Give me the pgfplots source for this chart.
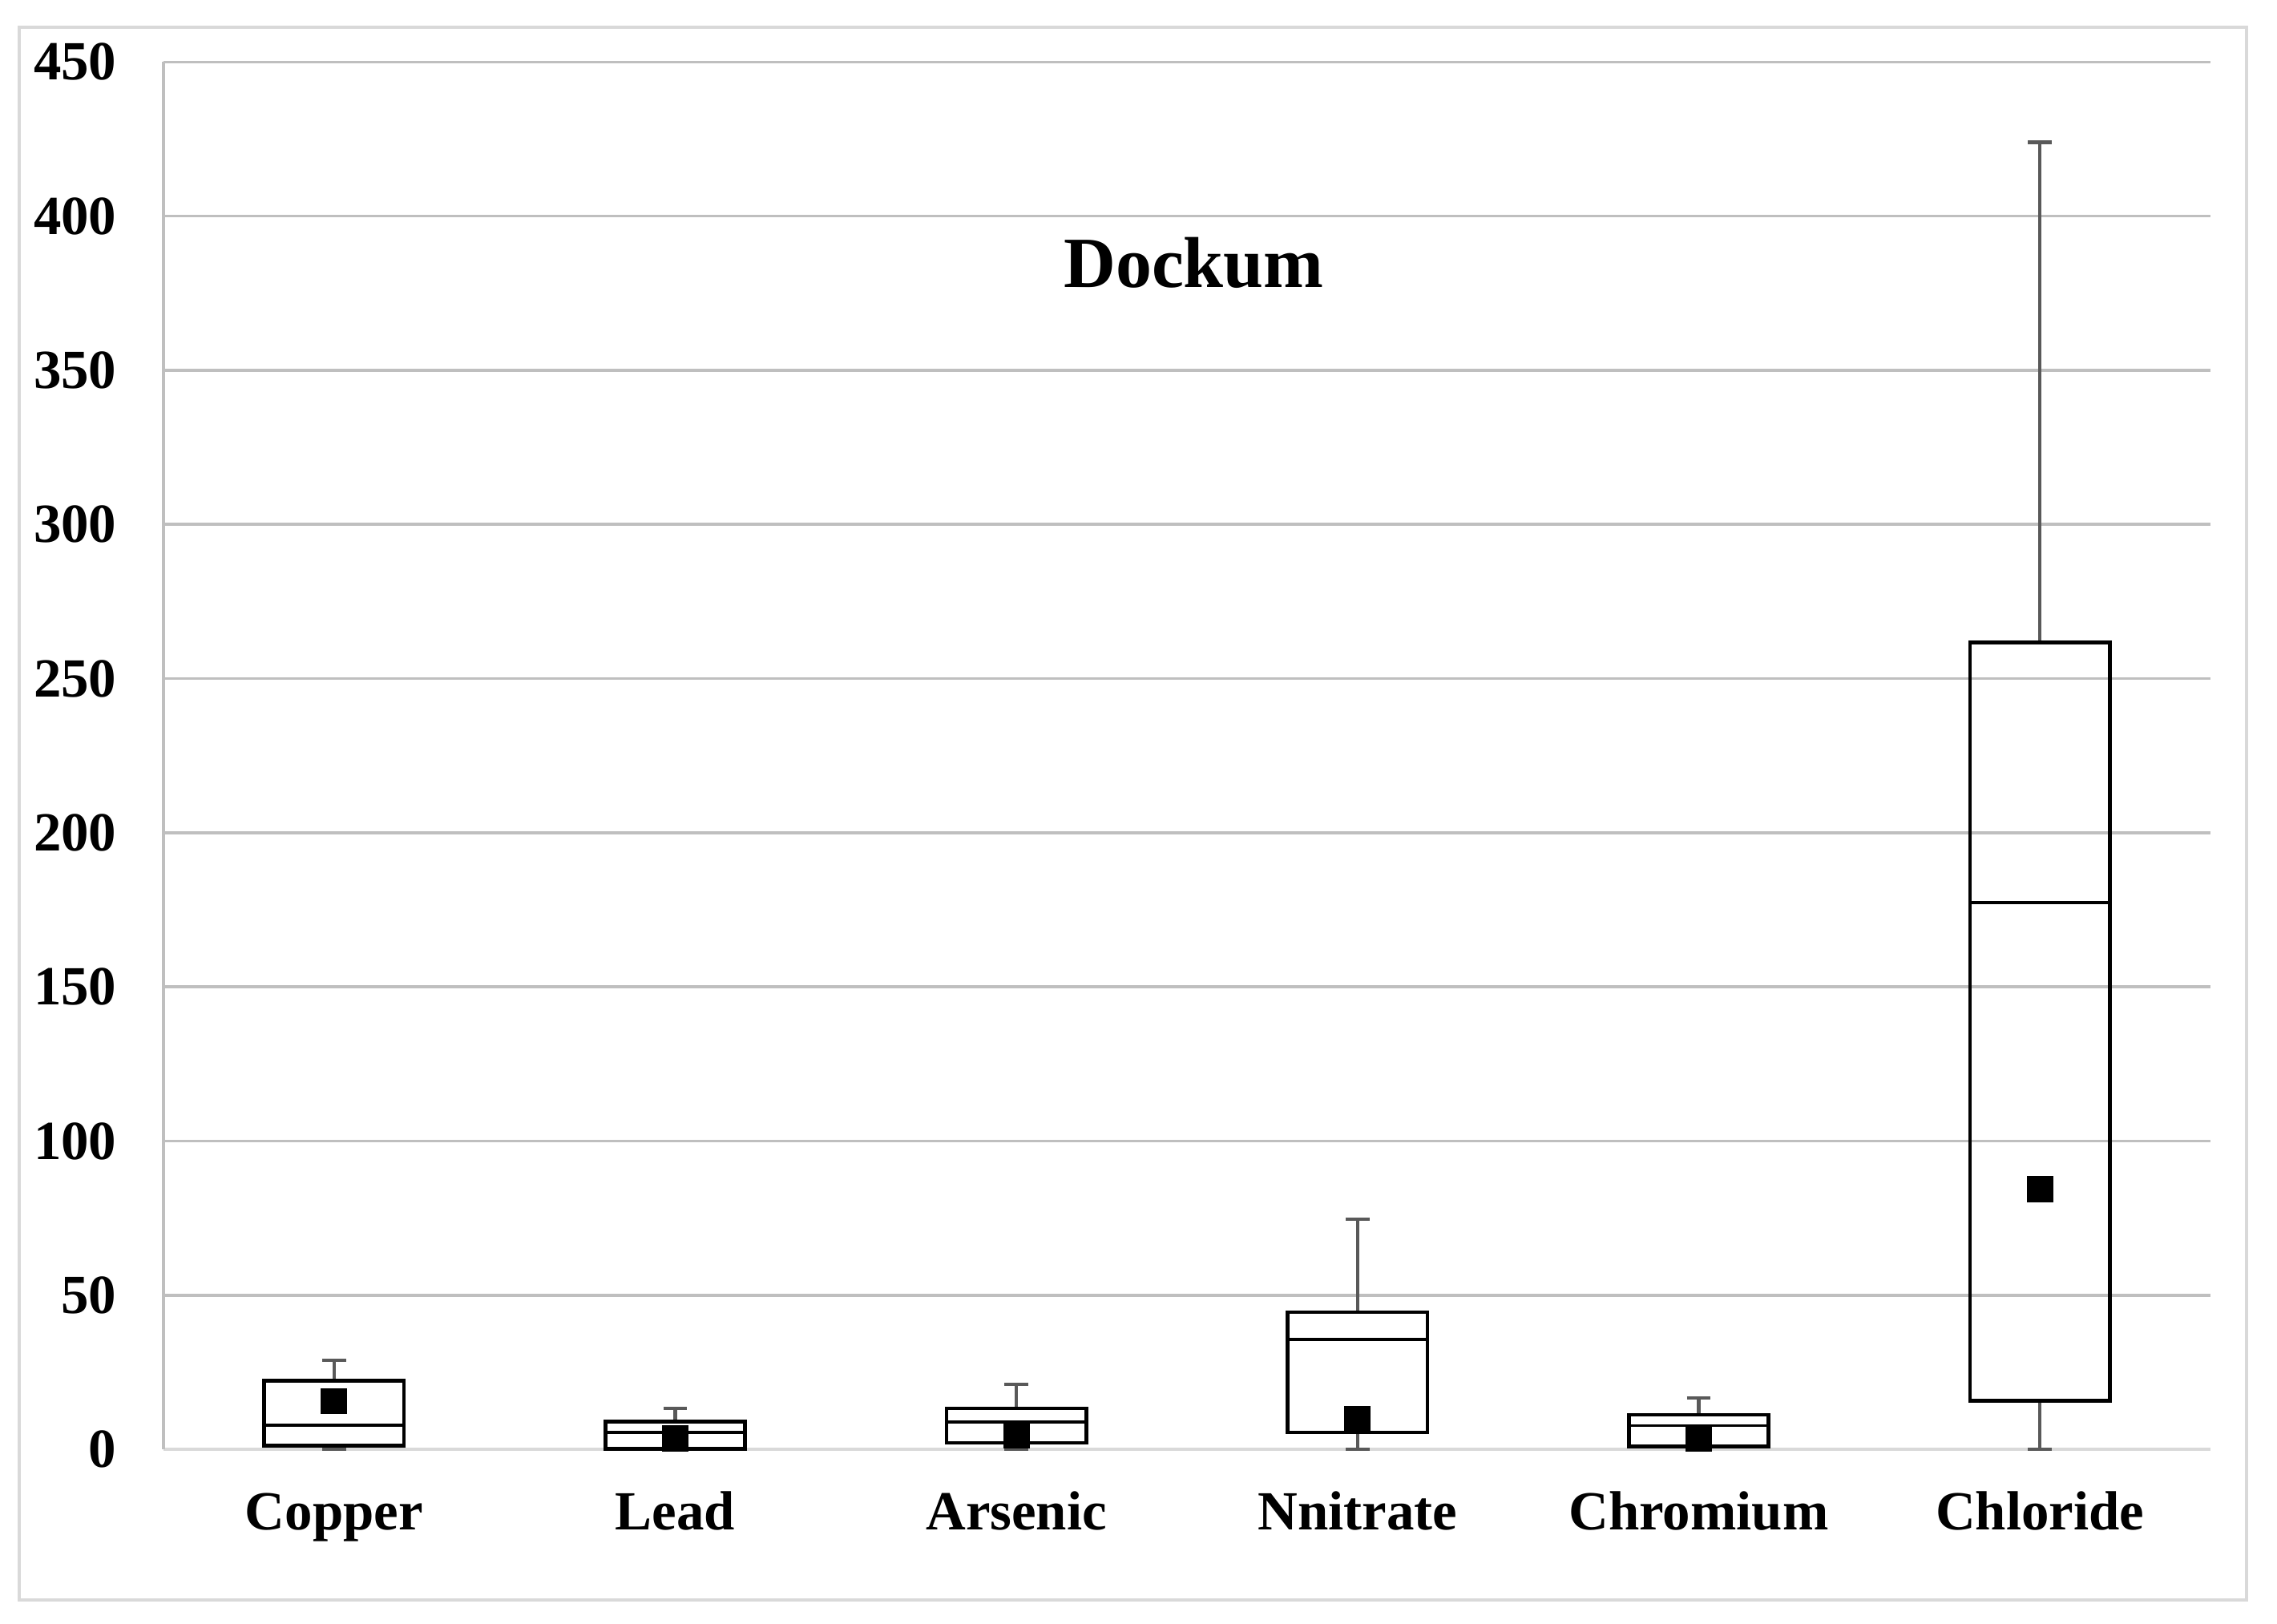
\documentclass[border=0pt]{standalone}
\usepackage{fontspec}
\setmainfont{Liberation Serif}
\usepackage{pgfplots}
\pgfplotsset{compat=1.18}
\usepgfplotslibrary{statistics}
\definecolor{gridc}{HTML}{BFBFBF}
\definecolor{axc}{HTML}{D9D9D9}
\definecolor{whisk}{HTML}{595959}
\begin{document}
\begin{tikzpicture}
\useasboundingbox (-28.15pt,-29.94pt) rectangle (363.85pt,249.47pt);
\draw[axc, line width=0.55pt] (-24.84pt,-25.94pt) rectangle (358.6pt,244.8pt);
\begin{axis}[
  at={(0,0)}, anchor=south west,
  scale only axis, width=352.4pt, height=238.8pt,
  xmin=0.5, xmax=6.5, ymin=0, ymax=450,
  axis lines*=left,
  ytick={0,50,...,450},
  xtick={1,2,3,4,5,6},
  xticklabels={Copper,Lead,Arsenic,Nnitrate,Chromium,Chloride},
  ymajorgrids,
  major grid style={gridc, line width=0.5pt},
  major tick length=0pt,
  x axis line style={axc, line width=0.6pt},
  y axis line style={gridc, line width=0.6pt},
  tick label style={font=\fontsize{9.5}{11}\selectfont\bfseries},
  /pgf/number format/assume math mode=true,
  yticklabel style={anchor=east, inner sep=0pt, xshift=-7.9pt},
  xticklabel style={anchor=base, inner sep=0pt, yshift=-13.8pt},
  boxplot/draw direction=y,
  boxplot/every whisker/.style={whisk, line width=0.6pt},
  boxplot/every box/.style={black, line width=0.65pt},
  boxplot/every median/.style={black, line width=0.5pt},
  clip=false,
]
\addplot[black, line width=0.65pt, mark=none, boxplot prepared={draw position=1, lower whisker=0, lower quartile=1.1, median=7.8, upper quartile=22.3, upper whisker=28.8, box extend=0.41, whisker extend=0.07}] coordinates {};
\addplot[black, line width=0.65pt, mark=none, boxplot prepared={draw position=2, lower whisker=0, lower quartile=0.2, median=5.5, upper quartile=8.9, upper whisker=13.2, box extend=0.41, whisker extend=0.07}] coordinates {};
\addplot[black, line width=0.65pt, mark=none, boxplot prepared={draw position=3, lower whisker=0, lower quartile=2.1, median=8.9, upper quartile=13.3, upper whisker=21.0, box extend=0.41, whisker extend=0.07}] coordinates {};
\addplot[black, line width=0.65pt, mark=none, boxplot prepared={draw position=4, lower whisker=0, lower quartile=5.5, median=35.7, upper quartile=44.5, upper whisker=74.6, box extend=0.41, whisker extend=0.07}] coordinates {};
\addplot[black, line width=0.65pt, mark=none, boxplot prepared={draw position=5, lower whisker=0, lower quartile=1.0, median=7.7, upper quartile=11.2, upper whisker=16.6, box extend=0.41, whisker extend=0.07}] coordinates {};
\addplot[black, line width=0.65pt, mark=none, boxplot prepared={draw position=6, lower whisker=0, lower quartile=15.7, median=177.4, upper quartile=261.8, upper whisker=424, box extend=0.41, whisker extend=0.07}] coordinates {};
\addplot[only marks, mark=square*, mark size=2.07pt, black] coordinates {(1,15.6) (2,3.5) (3,4.5) (4,9.9) (5,3.5) (6,84.4)};
\node[anchor=base, font=\fontsize{12.4}{14}\selectfont\bfseries] at (axis cs:3.52,377) {Dockum};
\end{axis}
\end{tikzpicture}
\end{document}
